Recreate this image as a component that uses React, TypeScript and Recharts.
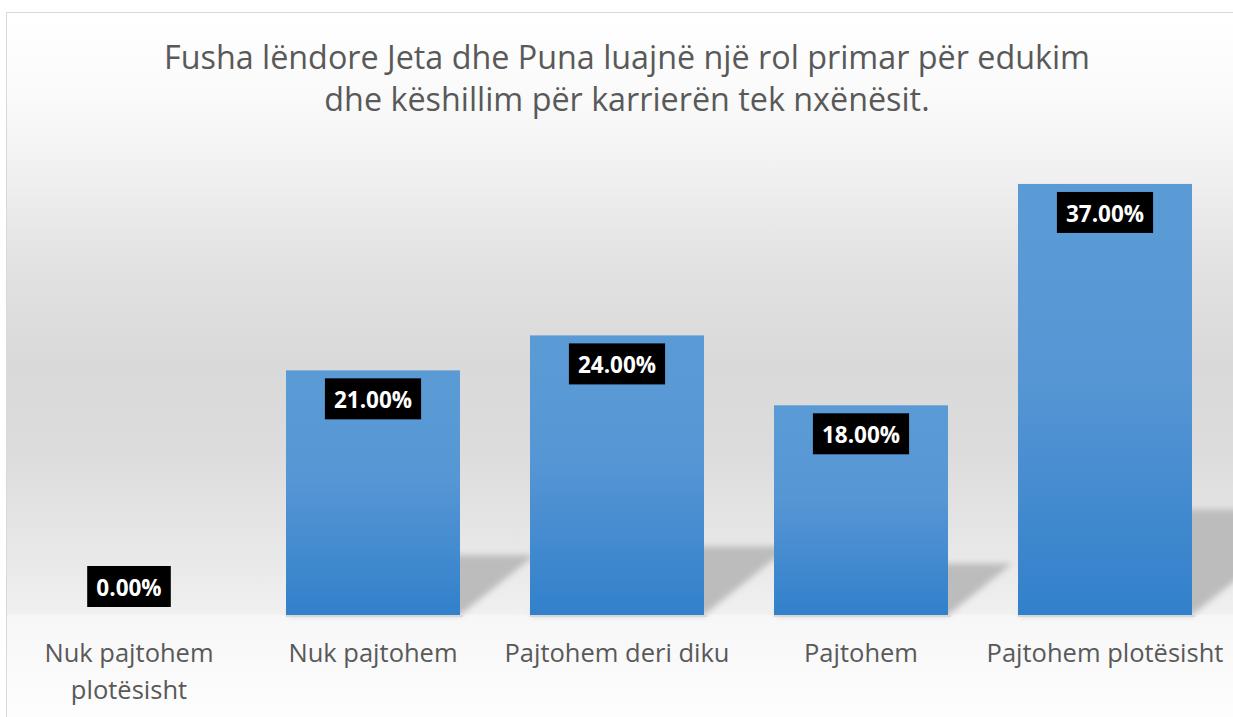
import React from 'react';
import { BarChart, Bar, XAxis, YAxis, LabelList } from 'recharts';

const categories = [
  'Nuk pajtohem plotësisht',
  'Nuk pajtohem',
  'Pajtohem deri diku',
  'Pajtohem',
  'Pajtohem plotësisht',
];
const values = [0, 21, 24, 18, 37];
const titleLines = [
  'Fusha lëndore Jeta dhe Puna luajnë një rol primar për edukim',
  'dhe këshillim për karrierën tek nxënësit.',
];

const data = categories.map((name, i) => ({ name, value: values[i] }));

const FONT = '"Open Sans", "Noto Sans", sans-serif';
const TEXT_COLOR = '#595959';
const TICK_SIZE = 25.5;

const charW: Record<string, number> = { '.': 0.285, '%': 0.89 };
const measure = (s: string, size: number) =>
  s.split('').reduce((a, c) => a + (charW[c] ?? 0.572), 0) * size;

let ctx: CanvasRenderingContext2D | null = null;
const textWidth = (s: string, size: number) => {
  if (!ctx && typeof document !== 'undefined') {
    ctx = document.createElement('canvas').getContext('2d');
  }
  if (ctx) {
    ctx.font = `${size}px "Open Sans"`;
    return ctx.measureText(s).width;
  }
  return s.length * size * 0.5;
};

const wrap = (s: string, maxW: number, size: number) => {
  const words = s.split(' ');
  const lines: string[] = [];
  let cur = '';
  words.forEach((w) => {
    const cand = cur ? `${cur} ${w}` : w;
    if (cur && textWidth(cand, size) > maxW) {
      lines.push(cur);
      cur = w;
    } else {
      cur = cand;
    }
  });
  if (cur) lines.push(cur);
  return lines;
};

const BarShape = (props: any) => {
  const { x, y, width, height } = props;
  if (!height || height <= 0) return <g />;
  const base = y + height;
  const sh = height * 0.245;
  const dx = sh * 1.25;
  return (
    <g>
      <polygon
        points={`${x},${base} ${x + width},${base} ${x + width + dx},${base - sh} ${x + dx},${base - sh}`}
        fill="#bcbcbc"
        filter="url(#shadowBlur)"
      />
      <rect x={x} y={base} width={width + 3} height={2} fill="#d8d8d8" />
      <rect x={x} y={y} width={width} height={height} fill="url(#barGrad)" />
    </g>
  );
};

const renderLabel = (props: any) => {
  const vb = props.viewBox || {};
  const x = props.x ?? vb.x;
  const y = props.y ?? vb.y;
  const width = props.width ?? vb.width;
  const height = props.height ?? vb.height ?? 0;
  const value = props.value;
  const text = `${Number(value).toFixed(2)}%`;
  const fs = 22.5;
  const bw = measure(text, 22) + 20;
  const bh = 41;
  const base = y + height;
  const top = height >= bh + 16 ? y + 8 : base - 8 - bh;
  const cx = x + width / 2;
  return (
    <g>
      <rect x={cx - bw / 2} y={top} width={bw} height={bh} fill="#000000" />
      <text
        x={cx}
        y={top + bh / 2 + 1}
        textAnchor="middle"
        dominantBaseline="central"
        fill="#ffffff"
        fontFamily={FONT}
        fontWeight={700}
        fontSize={fs}
      >
        {text}
      </text>
    </g>
  );
};

const Tick = (props: any) => {
  const { x, y, payload } = props;
  const lines = wrap(String(payload.value), 244, TICK_SIZE);
  return (
    <text
      x={x}
      y={y + 47}
      textAnchor="middle"
      fontFamily={FONT}
      fontSize={TICK_SIZE}
      fill={TEXT_COLOR}
    >
      {lines.map((l, i) => (
        <tspan key={i} x={x} dy={i === 0 ? 0 : 37}>
          {l}
        </tspan>
      ))}
    </text>
  );
};

export default function App() {
  return (
    <div
      style={{
        position: 'fixed',
        left: 6,
        top: 12,
        width: 1227,
        height: 705,
        overflow: 'hidden',
        boxSizing: 'border-box',
        borderLeft: '1px solid #d9d9d9',
        borderTop: '1px solid #d9d9d9',
        background:
          'linear-gradient(to bottom, #ffffff 0%, #fafafa 12%, #f1f1f1 22%, #e2e2e2 36%, #d9d9d9 50%, #dcdcdc 62%, #e4e4e4 72%, #ebebeb 80%, #f0f0f0 85.3%, #f7f7f7 85.6%, #fdfdfd 100%)',
      }}
    >
      <div
        style={{
          position: 'absolute',
          left: 0,
          top: 22,
          width: 1240,
          textAlign: 'center',
          fontFamily: FONT,
          fontSize: 32.3,
          lineHeight: '42px',
          color: TEXT_COLOR,
        }}
      >
        {titleLines.map((l, i) => (
          <div key={i} style={{ whiteSpace: 'nowrap' }}>
            {l}
          </div>
        ))}
      </div>
      <div style={{ position: 'absolute', left: 0, top: 0 }}>
        <BarChart
          width={1226}
          height={704}
          data={data}
          margin={{ top: 136, right: 6, left: 0, bottom: 0 }}
        >
          <defs>
            <linearGradient id="barGrad" x1="0" y1="0" x2="0" y2="1">
              <stop offset="0%" stopColor="#5b9bd5" />
              <stop offset="45%" stopColor="#5696d4" />
              <stop offset="100%" stopColor="#3280cb" />
            </linearGradient>
            <filter id="shadowBlur" x="-20%" y="-20%" width="140%" height="140%">
              <feGaussianBlur stdDeviation="3" />
            </filter>
          </defs>
          <XAxis
            dataKey="name"
            height={102}
            axisLine={false}
            tickLine={false}
            tickSize={0}
            tickMargin={0}
            interval={0}
            tick={<Tick />}
          />
          <YAxis hide domain={[0, 40]} />
          <Bar
            dataKey="value"
            barSize={174}
            shape={<BarShape />}
            isAnimationActive={false}
          >
            <LabelList dataKey="value" content={renderLabel} />
          </Bar>
        </BarChart>
      </div>
    </div>
  );
}
